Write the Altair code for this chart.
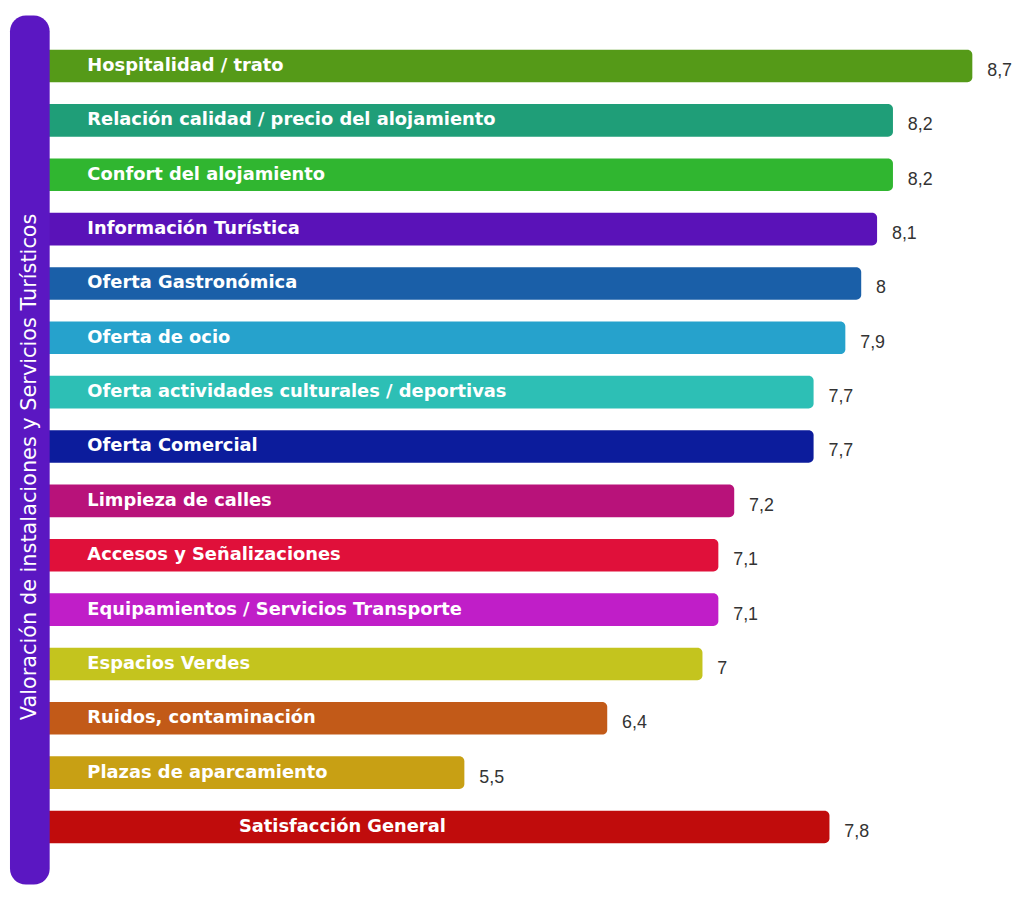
import altair as alt
import pandas as pd

categories = [
    "Hospitalidad / trato",
    "Relación calidad / precio del alojamiento",
    "Confort del alojamiento",
    "Información Turística",
    "Oferta Gastronómica",
    "Oferta de ocio",
    "Oferta actividades culturales / deportivas",
    "Oferta Comercial",
    "Limpieza de calles",
    "Accesos y Señalizaciones",
    "Equipamientos / Servicios Transporte",
    "Espacios Verdes",
    "Ruidos, contaminación",
    "Plazas de aparcamiento",
    "Satisfacción General",
]
values = [8.7, 8.2, 8.2, 8.1, 8.0, 7.9, 7.7, 7.7, 7.2, 7.1, 7.1, 7.0, 6.4, 5.5, 7.8]
colors = [
    "#559a18", "#1f9e78", "#30b630", "#5a12b8", "#1a5fa8",
    "#26a2cc", "#2dbfb5", "#0c1c9c", "#b8127a", "#e0103a",
    "#c01ec8", "#c4c41e", "#c25a18", "#c8a014", "#c00c0c",
]
side_title = "Valoración de instalaciones y Servicios Turísticos"
overall = "Satisfacción General"

df = pd.DataFrame({"cat": categories, "value": values})
one = pd.DataFrame({"k": [0]})

FONT = "Liberation Sans"
LABEL_FONT = "DejaVu Sans"

yenc = alt.Y(
    "cat:N",
    sort=categories,
    axis=None,
    scale=alt.Scale(range=[27.6, 849.4], paddingInner=0.4, paddingOuter=0.2),
)
xscale = alt.Scale(domain=[2.625, 8.844], zero=False, nice=False)

base = alt.Chart(df)

bars = base.mark_bar(cornerRadius=5).encode(
    y=yenc,
    x=alt.X("value:Q", scale=xscale, axis=None),
    x2=alt.X2Datum(2.75),
    color=alt.Color("cat:N", scale=alt.Scale(domain=categories, range=colors), legend=None),
)

side_bar = alt.Chart(one).mark_rect(cornerRadius=16, color="#5b17c2").encode(
    x=alt.value(2), x2=alt.value(42), y=alt.value(4), y2=alt.value(880)
)

side_text = alt.Chart(one).mark_text(
    text=side_title, angle=270, font=LABEL_FONT, fontSize=21, color="white",
    align="center", baseline="middle",
).encode(x=alt.value(22), y=alt.value(459))

labels = base.transform_filter(alt.datum.cat != overall).mark_text(
    align="left", baseline="middle", font=LABEL_FONT, fontSize=18,
    fontWeight="bold", color="white",
).encode(y=yenc, x=alt.value(80), text="cat:N")

overall_label = base.transform_filter(alt.datum.cat == overall).mark_text(
    align="center", baseline="middle", font=LABEL_FONT, fontSize=18,
    fontWeight="bold", color="white",
).encode(y=yenc, x=alt.value(337), text="cat:N")

value_labels = base.transform_calculate(
    lbl="replace(toString(datum.value), '.', ',')"
).mark_text(
    align="left", baseline="middle", dx=15, dy=5, font=FONT, fontSize=18, color="#333333",
).encode(y=yenc, x=alt.X("value:Q", scale=xscale, axis=None), text="lbl:N")

chart = alt.layer(
    bars, side_bar, side_text, labels, overall_label, value_labels
).properties(
    width=995, height=880,
    autosize=alt.AutoSizeParams(type="none"),
    padding={"left": 0, "top": 0, "right": 23, "bottom": 0},
).configure_view(stroke=None)

chart.save("out.html", embed_options={"renderer": "svg", "actions": False})
